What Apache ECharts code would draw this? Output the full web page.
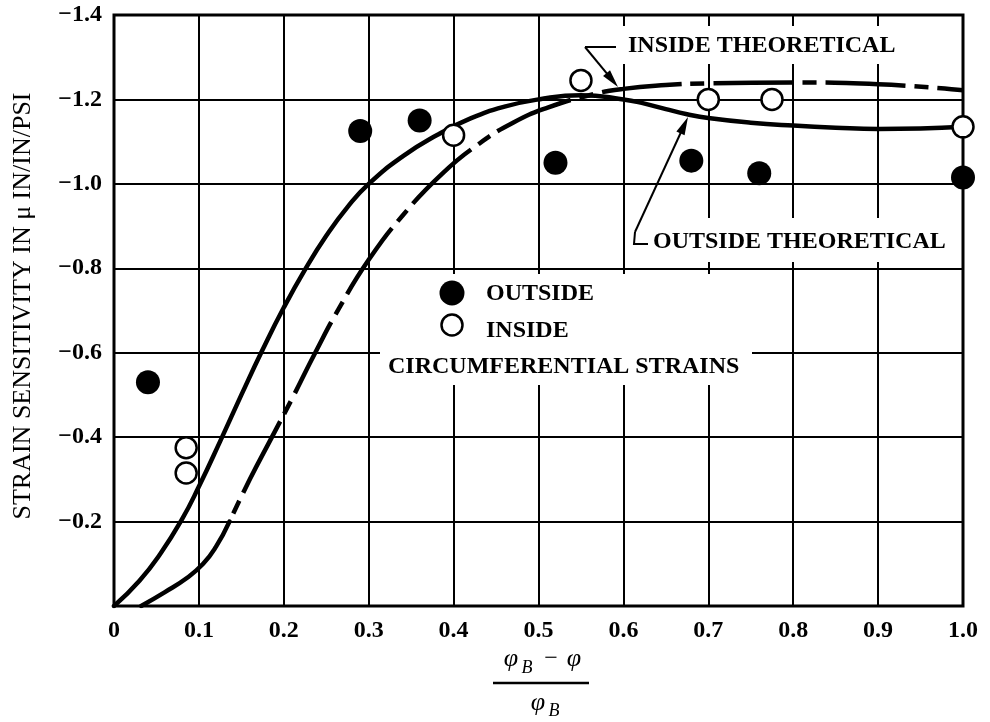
<!DOCTYPE html>
<html><head><meta charset="utf-8">
<script src="https://cdn.jsdelivr.net/npm/echarts/dist/echarts.min.js"></script>
<style>html,body{margin:0;padding:0;background:#fff}#c{width:990px;height:722px}</style>
</head><body><div id="c"></div>
<script>
// ---------- data ----------
const xTickValues = [0, 0.1, 0.2, 0.3, 0.4, 0.5, 0.6, 0.7, 0.8, 0.9, 1.0];
const xTickLabels = ['0', '0.1', '0.2', '0.3', '0.4', '0.5', '0.6', '0.7', '0.8', '0.9', '1.0'];
const yTickValues = [-1.4, -1.2, -1.0, -0.8, -0.6, -0.4, -0.2, 0];
const yTickLabels = ['\u22121.4', '\u22121.2', '\u22121.0', '\u22120.8', '\u22120.6', '\u22120.4', '\u22120.2', ''];

const outsideMeasured = [[0.04, -0.53], [0.29, -1.125], [0.36, -1.15], [0.52, -1.05], [0.68, -1.055], [0.76, -1.025], [1.0, -1.015]];
const insideMeasured = [[0.085, -0.375], [0.085, -0.315], [0.40, -1.115], [0.55, -1.245], [0.70, -1.20], [0.775, -1.20], [1.0, -1.135]];

const outsideTheory = [[0, 0], [0.03, -0.06], [0.055, -0.125], [0.08, -0.205], [0.1, -0.283], [0.125, -0.39], [0.15, -0.5],
  [0.175, -0.607], [0.2, -0.707], [0.225, -0.797], [0.25, -0.877], [0.275, -0.945], [0.3, -1.0], [0.34, -1.065], [0.38, -1.115],
  [0.42, -1.155], [0.46, -1.183], [0.5, -1.2], [0.55, -1.21], [0.6, -1.2], [0.625, -1.19], [0.65, -1.177], [0.675, -1.165],
  [0.7, -1.156], [0.75, -1.145], [0.8, -1.138], [0.85, -1.133], [0.9, -1.13], [0.95, -1.131], [1.0, -1.135]];
const insideTheorySolid = [[0.032, 0], [0.06, -0.033], [0.085, -0.065], [0.105, -0.1], [0.12, -0.14], [0.136, -0.2]];
const insideTheoryDashed = [[0.136, -0.2], [0.16, -0.3], [0.186, -0.4], [0.212, -0.5], [0.237, -0.6], [0.265, -0.705],
  [0.3, -0.82], [0.34, -0.925], [0.387, -1.025], [0.43, -1.095], [0.47, -1.145], [0.51, -1.18], [0.56, -1.21], [0.6, -1.225],
  [0.65, -1.234], [0.7, -1.238], [0.8, -1.24], [0.9, -1.236], [1.0, -1.222]];

const labelOutside = 'OUTSIDE';
const labelInside = 'INSIDE';
const labelCircum = 'CIRCUMFERENTIAL STRAINS';
const labelInsideTheory = 'INSIDE THEORETICAL';
const labelOutsideTheory = 'OUTSIDE THEORETICAL';
const yTitle = 'STRAIN SENSITIVITY IN \u03bc IN/IN/PSI';

// ---------- chart ----------
const FONT = '"Liberation Serif", "Times New Roman", serif';
const chart = echarts.init(document.getElementById('c'), null, {renderer: 'canvas'});
const G = {left: 114, top: 15, width: 849, height: 591};
const curveStyle = {color: '#000', width: 4.5, cap: 'round', join: 'round'};

chart.setOption({
  animation: false,
  backgroundColor: '#fff',
  grid: {left: G.left, top: G.top, width: G.width, height: G.height, show: true, borderColor: '#000', borderWidth: 3, backgroundColor: 'transparent'},
  xAxis: {
    type: 'value', min: 0, max: 1, interval: 0.1,
    axisLine: {show: false}, axisTick: {show: false},
    splitLine: {show: true, lineStyle: {color: '#000', width: 2}},
    axisLabel: {
      margin: 13, color: '#000', fontFamily: FONT, fontSize: 24, fontWeight: 'bold',
      formatter: v => { const i = xTickValues.findIndex(t => Math.abs(t - v) < 1e-6); return i >= 0 ? xTickLabels[i] : ''; }
    }
  },
  yAxis: {
    type: 'value', min: -1.4, max: 0, interval: 0.2, inverse: true,
    axisLine: {show: false}, axisTick: {show: false},
    splitLine: {show: true, lineStyle: {color: '#000', width: 2}},
    axisLabel: {
      margin: 12, color: '#000', fontFamily: FONT, fontSize: 24, fontWeight: 'bold',
      formatter: v => { const i = yTickValues.findIndex(t => Math.abs(t - v) < 1e-6); return i >= 0 ? yTickLabels[i] : ''; }
    }
  },
  series: [
    {type: 'line', name: 'outsideTheory', data: outsideTheory, smooth: 0.5, symbol: 'none', z: 3,
      lineStyle: curveStyle},
    {type: 'line', name: 'insideTheorySolid', data: insideTheorySolid, smooth: 0.5, symbol: 'none', z: 3,
      lineStyle: curveStyle},
    {type: 'line', name: 'insideTheoryDashed', data: insideTheoryDashed, smooth: 0.5, symbol: 'none', z: 3,
      lineStyle: {color: '#000', width: 4.5, type: [80, 9, 14, 9], dashOffset: 80}},
    {type: 'scatter', name: 'outside', data: outsideMeasured, symbol: 'circle', symbolSize: 24, clip: false, z: 4,
      itemStyle: {color: '#000', opacity: 1}, emphasis: {disabled: true}},
    {type: 'scatter', name: 'inside', data: insideMeasured, symbol: 'circle', symbolSize: 21, clip: false, z: 5,
      itemStyle: {color: '#fff', borderColor: '#000', borderWidth: 2.5, opacity: 1}, emphasis: {disabled: true}}
  ]
});

// ---------- annotations (layout) ----------
function txt(text, x, y, font, align) {
  return {type: 'text', z: 10, x: x, y: y,
    style: {text: text, font: font, fill: '#000', textAlign: align || 'left', align: align || 'left', textVerticalAlign: 'middle', verticalAlign: 'middle'}};
}
function seg(x1, y1, x2, y2, w) {
  return {type: 'line', z: 10, shape: {x1, y1, x2, y2}, style: {stroke: '#000', lineWidth: w || 2}};
}
function arrow(x0, y0, x1, y1) {
  const dx = x1 - x0, dy = y1 - y0, L = Math.hypot(dx, dy), ux = dx / L, uy = dy / L;
  const len = 18, hw = 4.5;
  const bx = x1 - ux * len, by = y1 - uy * len;
  return [seg(x0, y0, bx + ux * 2, by + uy * 2, 2),
    {type: 'polygon', z: 10, shape: {points: [[x1, y1], [bx - uy * hw, by + ux * hw], [bx + uy * hw, by - ux * hw]]}, style: {fill: '#000'}}];
}
const BOLD = 'bold 24px ' + FONT;
const graphics = [
  {type: 'rect', z: 1, shape: {x: 380, y: 274, width: 372, height: 111}, style: {fill: '#fff'}},
  {type: 'rect', z: 1, shape: {x: 610, y: 26, width: 295, height: 38}, style: {fill: '#fff'}},
  {type: 'rect', z: 1, shape: {x: 640, y: 218, width: 316, height: 44}, style: {fill: '#fff'}},
  {type: 'circle', z: 10, shape: {cx: 452, cy: 293, r: 12.5}, style: {fill: '#000'}},
  {type: 'circle', z: 10, shape: {cx: 452, cy: 325, r: 10.5}, style: {fill: '#fff', stroke: '#000', lineWidth: 2.5}},
  txt(labelOutside, 486, 294, BOLD),
  txt(labelInside, 486, 331, BOLD),
  txt(labelCircum, 388, 367, BOLD),
  txt(labelInsideTheory, 628, 46, BOLD),
  txt(labelOutsideTheory, 653, 242, BOLD),
  seg(585, 47, 616, 47, 2),
  ...arrow(585, 47, 618, 87),
  {type: 'polyline', z: 10, shape: {points: [[648, 244], [634, 244], [635, 232]]}, style: {stroke: '#000', lineWidth: 2, fill: null}},
  ...arrow(635, 232, 688, 117),
  {type: 'text', z: 10, x: 23, y: 306, rotation: Math.PI / 2,
    style: {text: yTitle, font: '26px ' + FONT, fill: '#000', textAlign: 'center', align: 'center', textVerticalAlign: 'middle', verticalAlign: 'middle'}},
  // x-axis title as a fraction
  txt('\u03c6', 511, 659, 'italic 26px ' + FONT, 'center'),
  txt('B', 527, 668, 'italic 18px ' + FONT, 'center'),
  txt('\u2212', 551, 659, '24px ' + FONT, 'center'),
  txt('\u03c6', 574, 659, 'italic 26px ' + FONT, 'center'),
  seg(493, 683, 589, 683, 2.5),
  txt('\u03c6', 538, 703, 'italic 26px ' + FONT, 'center'),
  txt('B', 554, 711, 'italic 18px ' + FONT, 'center')
];
chart.setOption({graphic: graphics});
</script></body></html>
